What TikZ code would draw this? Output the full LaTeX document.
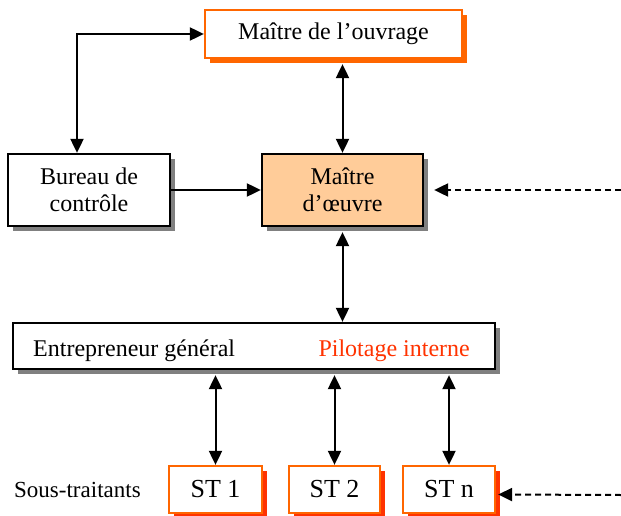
\documentclass[tikz,border=0pt]{standalone}
\usepackage{fontspec}
\setmainfont{Liberation Serif}
\usetikzlibrary{arrows.meta,shadows,calc}
\definecolor{orangeA}{HTML}{FF6600}
\definecolor{redA}{HTML}{FF3300}
\definecolor{peach}{HTML}{FFCC99}
\definecolor{shadowgray}{HTML}{808080}
\begin{document}
\begin{tikzpicture}[x=1pt,y=-1pt,
  box/.style={rectangle,draw,line width=2.3pt,inner sep=0pt,align=center,
    font=\fontsize{24}{27}\selectfont},
  grayshadow/.style={drop shadow={shadow xshift=5pt,shadow yshift=-5pt,fill=shadowgray,opacity=1}},
  orangebox/.style={box,draw=orangeA,fill=white,
    drop shadow={shadow xshift=5pt,shadow yshift=-5pt,fill=orangeA,opacity=1}},
  stbox/.style={box,draw=orangeA,fill=white,minimum height=47pt,
    font=\fontsize{26}{28}\selectfont,
    drop shadow={shadow xshift=5pt,shadow yshift=-5pt,fill=redA,opacity=1}},
  conn/.style={line width=2pt,{Triangle[length=14pt,width=13pt]}-{Triangle[length=14pt,width=13pt]}},
  sconn/.style={line width=2pt,-{Triangle[length=14pt,width=13pt]}},
  dconn/.style={line width=2pt,dash pattern=on 6pt off 4pt,-{Triangle[length=14pt,width=13pt]}},
  lbl/.style={inner sep=0pt,font=\fontsize{24}{27}\selectfont}
]
\useasboundingbox (0,0) rectangle (621,516);

\node[orangebox,minimum width=257pt,minimum height=48pt] (ouv) at (333.5,34) {Maître de l’ouvrage};
\node[box,grayshadow,fill=white,minimum width=162pt,minimum height=72pt] (bur) at (89,190) {Bureau de\\contrôle};
\node[box,grayshadow,fill=peach,minimum width=161pt,minimum height=72pt] (mo) at (342.5,190) {Maître\\d’œuvre};
\node[box,grayshadow,fill=white,minimum width=482pt,minimum height=46pt] (ent) at (254,346) {};
\node[lbl,anchor=base west] (entl) at (33,356) {Entrepreneur général};
\node[lbl,anchor=base east,text=redA] (pil) at (470,356) {Pilotage interne};

\node[stbox,minimum width=93pt] (st1) at (215.5,489.5) {ST 1};
\node[stbox,minimum width=91pt] (st2) at (334.5,489.5) {ST 2};
\node[stbox,minimum width=92pt] (stn) at (449,489.5) {ST n};
\node[lbl,anchor=base west,font=\fontsize{23}{26}\selectfont] (sous) at (14,497) {Sous-traitants};

\coordinate (r1) at (621,190);
\coordinate (r2) at (621,495);

\draw[conn] (ouv.west) -| ([xshift=-12pt]bur.north);
\draw[conn] ([yshift=-5pt]mo.north |- ouv.south) -- (mo.north);
\draw[sconn] (bur.east) -- (mo.west);
\draw[dconn] (r1) -- ([xshift=10pt]mo.east);
\draw[conn] ([yshift=-5pt]mo.south) -- (mo.south |- ent.north);
\draw[conn] ([yshift=-5pt]st1.north |- ent.south) -- (st1.north);
\draw[conn] ([yshift=-5pt]st2.north |- ent.south) -- (st2.north);
\draw[conn] ([yshift=-5pt]stn.north |- ent.south) -- (stn.north);
\draw[dconn] (r2) -- ([shift={(2,5)}]stn.east);
\end{tikzpicture}
\end{document}
